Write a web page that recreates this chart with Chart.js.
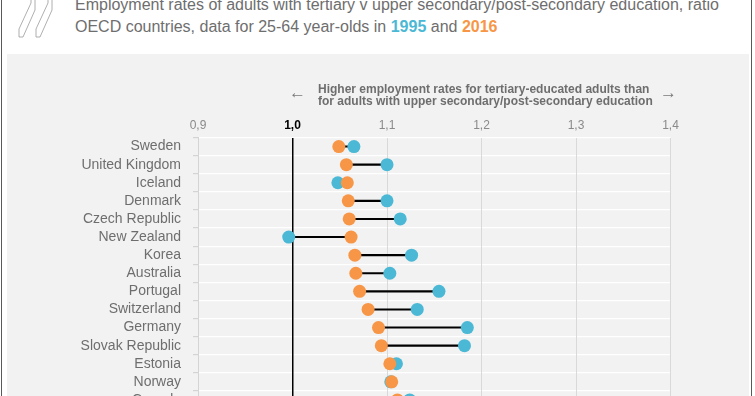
<!DOCTYPE html>
<html>
<head>
<meta charset="utf-8">
<script src="https://cdn.jsdelivr.net/npm/chart.js@4"></script>
<style>
  html, body { margin: 0; padding: 0; }
  body { width: 755px; height: 396px; overflow: hidden; position: relative; background: #fff; font-family: "Liberation Sans", Arial, sans-serif; }
  .frame { position: absolute; top: 0; bottom: 0; width: 1px; background: #595959; }
  #panel { position: absolute; left: 7px; top: 54px; width: 742px; height: 366px; background: #f2f2f2; }
  #dumbbell { position: absolute; left: 7px; top: 54px; }
  #title { position: absolute; left: 75px; top: -5.6px; font-size: 16px; line-height: 21.6px; color: #6e6e6e; white-space: nowrap; }
  #title b.y95 { color: #4bb8d5; }
  #title b.y16 { color: #f79646; }
  #note { position: absolute; left: 318px; top: 82.6px; font-size: 12px; font-weight: bold; line-height: 12.8px; color: #6e6e6e; white-space: nowrap; }
  .arrow { position: absolute; font-size: 17px; color: #7a7a7a; line-height: 17px; }
</style>
</head>
<body>
<div class="frame" style="left:1px"></div>
<div class="frame" style="left:751px"></div>
<svg style="position:absolute;left:0;top:0" width="60" height="45">
  <polygon points="19,37 19,29 31,3 31,-2 35,-2 35,10 23,37" fill="none" stroke="#9a9a9a" stroke-width="0.8"/>
  <polygon points="36,37 36,29 48,3 48,-2 52,-2 52,10 40,37" fill="none" stroke="#9a9a9a" stroke-width="0.8"/>
</svg>
<div id="title">Employment rates of adults with tertiary v upper secondary/post-secondary education, ratio<br>OECD countries, data for 25-64 year-olds in <b class="y95">1995</b> and <b class="y16">2016</b></div>
<div id="panel"></div>
<canvas id="dumbbell" width="742" height="366"></canvas>
<div id="note">Higher employment rates for tertiary-educated adults than<br>for adults with upper secondary/post-secondary education</div>
<span class="arrow" style="left:289px;top:84px">&larr;</span>
<span class="arrow" style="left:660px;top:84px">&rarr;</span>
<script>
const countries = ['Sweden', 'United Kingdom', 'Iceland', 'Denmark', 'Czech Republic', 'New Zealand', 'Korea',
    'Australia', 'Portugal', 'Switzerland', 'Germany', 'Slovak Republic', 'Estonia', 'Norway', 'Canada'];
const ratio1995 = [1.065, 1.100, 1.048, 1.100, 1.114, 0.996, 1.126, 1.103, 1.155, 1.132, 1.185, 1.182, 1.110, 1.104, 1.124];
const ratio2016 = [1.049, 1.057, 1.058, 1.059, 1.060, 1.062, 1.066, 1.067, 1.071, 1.080, 1.091, 1.094, 1.103, 1.105, 1.111];
const xTicks = [0.9, 1.0, 1.1, 1.2, 1.3, 1.4];

const BLUE = '#4bb8d5';
const ORANGE = '#f79646';

Chart.defaults.font.family = '"Liberation Sans", Arial, sans-serif';

const spans = ratio1995.map((v, i) => [Math.min(v, ratio2016[i]), Math.max(v, ratio2016[i])]);
const isOne = c => !!(c && c.tick && Math.abs(c.tick.value - 1) < 1e-6);

new Chart(document.getElementById('dumbbell'), {
    type: 'bar',
    data: {
        labels: countries,
        datasets: [
            { type: 'line', label: '2016', data: ratio2016, showLine: false, order: 0,
              pointRadius: 6.5, pointHoverRadius: 6.5, pointBorderWidth: 0, pointBackgroundColor: ORANGE, backgroundColor: ORANGE },
            { type: 'line', label: '1995', data: ratio1995, showLine: false, order: 1,
              pointRadius: 6.5, pointHoverRadius: 6.5, pointBorderWidth: 0, pointBackgroundColor: BLUE, backgroundColor: BLUE },
            { label: 'gap', data: spans, order: 2, backgroundColor: '#000000', barThickness: 1.4 }
        ]
    },
    options: {
        indexAxis: 'y',
        responsive: false,
        maintainAspectRatio: false,
        animation: false,
        layout: { padding: { left: 0, right: 78.5, top: 0, bottom: 11 } },
        plugins: { legend: { display: false }, tooltip: { enabled: false } },
        scales: {
            x: {
                position: 'top',
                min: 0.9, max: 1.4,
                afterBuildTicks: s => { s.ticks = xTicks.map(v => ({ value: v })); },
                afterFit: s => { s.height = 83.5; },
                border: { display: false },
                grid: {
                    z: -1,
                    drawTicks: false,
                    color: c => isOne(c) ? '#000000' : '#d9d9d9',
                    lineWidth: c => isOne(c) ? 1.5 : 1
                },
                ticks: {
                    padding: 5,
                    callback: v => v.toFixed(1).replace('.', ','),
                    color: c => isOne(c) ? '#000000' : '#8a8a8a',
                    font: c => ({ size: 12, weight: isOne(c) ? 'bold' : 'normal' })
                }
            },
            y: {
                afterFit: s => { s.width = 191; s.paddingTop = 0; s.paddingBottom = 0; },
                border: { display: true, color: '#d4d4d4', width: 1 },
                grid: { z: -2, color: '#ffffff', lineWidth: 1.2, tickColor: '#d4d4d4', tickLength: 5 },
                ticks: { autoSkip: false, padding: 12, color: '#6e6e6e', font: { size: 14 } }
            }
        }
    }
});
</script>
</body>
</html>
